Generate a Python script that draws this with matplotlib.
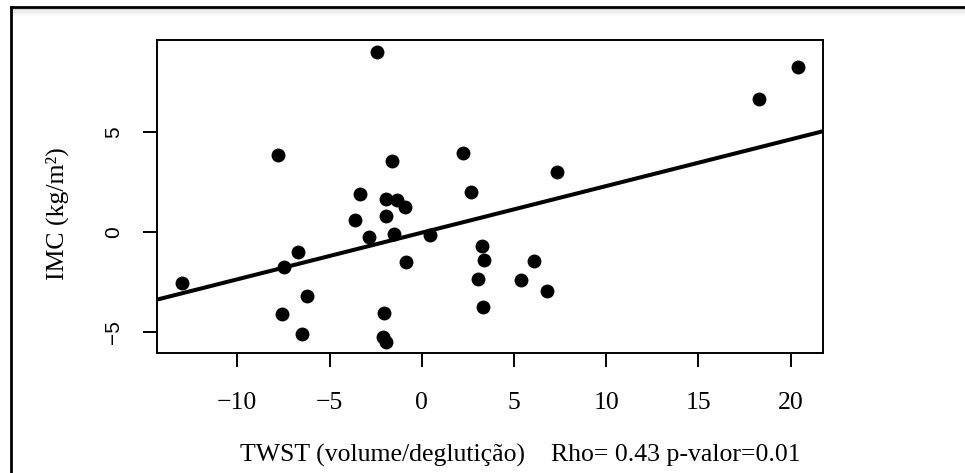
import numpy as np
import matplotlib.pyplot as plt
from matplotlib.lines import Line2D

# TWST (volume per swallow) vs IMC
twst = [-13.0, -7.78, -7.45, -6.71, -6.22, -7.59, -6.51, -2.42, -1.61, -3.35,
        -1.92, -1.36, -0.91, -3.60, -1.92, -2.88, -1.52, 0.45, -0.85, -2.06,
        -2.08, -1.95, 2.22, 2.68, 7.36, 3.25, 3.40, 6.11, 3.07, 5.38,
        6.81, 3.34, 18.27, 20.42]
imc = [-2.51, 3.88, -1.71, -0.98, -3.16, -4.08, -5.06, 9.01, 3.58, 1.94,
       1.68, 1.63, 1.28, 0.64, 0.84, -0.21, -0.06, -0.125, -1.48, -4.04,
       -5.21, -5.49, 3.99, 2.03, 3.04, -0.68, -1.39, -1.41, -2.34, -2.38,
       -2.93, -3.74, 6.66, 8.26]
x_ticks = [-10, -5, 0, 5, 10, 15, 20]
y_ticks = [-5, 0, 5]

serif = ['Liberation Serif', 'DejaVu Serif']
sans = ['Liberation Sans', 'DejaVu Sans']

fig = plt.figure(figsize=(9.65, 4.73), dpi=100)
ax = fig.add_axes([157.3 / 965, 1 - 353.3 / 473, 665.7 / 965, 313.3 / 473])

x = np.array(twst)
y = np.array(imc)
ax.plot(x, y, 'o', color='black', markersize=10, markeredgewidth=0)

# linear fit
slope, intercept = np.polyfit(x, y, 1)
span = np.array([-14.34, 21.76])
ax.plot(span, intercept + slope * span, color='black', lw=2.9, solid_capstyle='butt')

ax.set_xlim(-14.34, 21.76)
ax.set_ylim(-6.04, 9.625)
ax.set_xticks(x_ticks)
ax.set_xticklabels([f'\u2212{abs(v)}' if v < 0 else str(v) for v in x_ticks],
                   family=serif, fontsize=18.5)
ax.set_yticks(y_ticks)
ax.set_yticklabels([f'\u2212{abs(v)}' if v < 0 else str(v) for v in y_ticks],
                   family=sans, fontsize=15, rotation=90, va='center')
ax.tick_params(axis='both', direction='out', length=10, width=1.4, color='black')
ax.tick_params(axis='x', pad=18)
ax.tick_params(axis='y', pad=14.5)
for s in ax.spines.values():
    s.set_linewidth(1.4)

fig.text(57 / 965, 1 - 214 / 473, 'IMC (kg/m²)', family=serif, fontsize=18.5,
         rotation=90, ha='center', va='center')
fig.text(520 / 965, 1 - 455 / 473,
         'TWST (volume/deglutição)    Rho= 0.43 p-valor=0.01',
         family=serif, fontsize=18.5, ha='center', va='center')

# outer frame with a soft shadow under the top edge
x0, ytop = 11 / 965, 1 - 7 / 473
for i, a in enumerate([0.12, 0.09, 0.06, 0.04, 0.02]):
    yy = ytop - (2 + 1.5 * i) / 473
    fig.add_artist(Line2D([x0, 1], [yy, yy], color='black', alpha=a, lw=1.2))
fig.add_artist(Line2D([x0, 1], [ytop, ytop], color='black', lw=2))
fig.add_artist(Line2D([x0, x0], [0, ytop], color='black', lw=2))

fig.savefig('out.png', dpi=100)
